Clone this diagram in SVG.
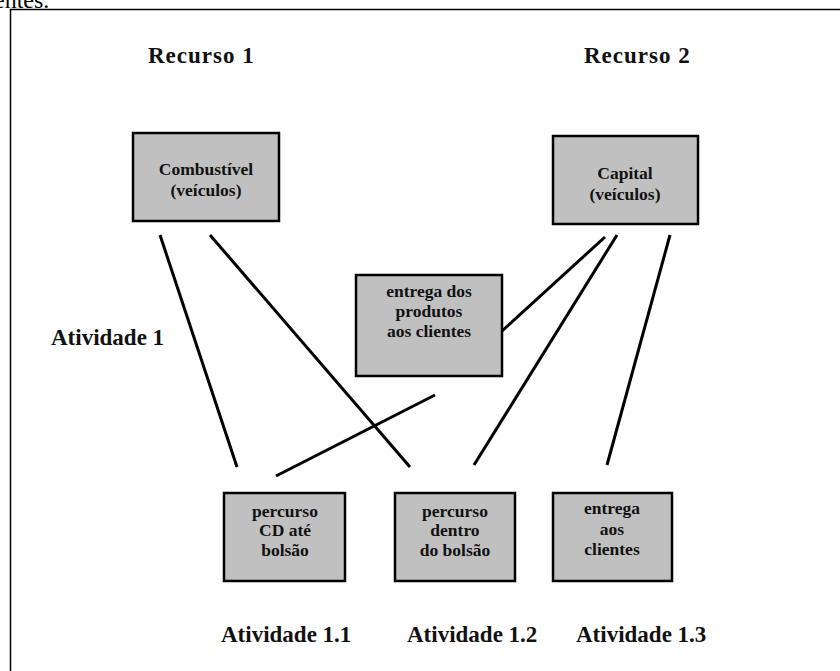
<svg xmlns="http://www.w3.org/2000/svg" width="840" height="671" viewBox="0 0 840 671">
  <style>
    .frame { fill: none; stroke: #000; stroke-width: 1.5; }
    .box { fill: #c0c0c0; stroke: #000; stroke-width: 2.5; }
    .lbl { font-family: "Liberation Serif", "Times New Roman", serif; font-weight: bold; fill: #111; }
    .head { font-size: 23px; letter-spacing: 1px; }
    .act { font-size: 23px; }
    .node { font-size: 17.5px; text-anchor: middle; }
    .link { stroke: #000; stroke-width: 3; stroke-linecap: butt; fill: none; }
    .prose { font-family: "Liberation Serif", "Times New Roman", serif; font-size: 24px; fill: #000; }
  </style>
  <rect width="840" height="671" fill="#fff"/>

  <!-- tail of the preceding paragraph line -->
  <text class="prose" x="-6" y="8">entes.</text>

  <!-- outer frame, open to the right and bottom -->
  <path class="frame" d="M10.5,680 V9.5 H850"/>

  <!-- headings -->
  <text class="lbl head" x="148" y="63">Recurso 1</text>
  <text class="lbl head" x="584" y="63">Recurso 2</text>
  <text class="lbl act" x="51" y="345">Atividade 1</text>
  <text class="lbl act" x="221" y="642">Atividade 1.1</text>
  <text class="lbl act" x="407" y="642">Atividade 1.2</text>
  <text class="lbl act" x="576" y="642">Atividade 1.3</text>

  <!-- connectors -->
  <g id="connectors">
    <line class="link" x1="160" y1="235" x2="237" y2="467"/>
    <line class="link" x1="210" y1="235" x2="410" y2="467"/>
    <line class="link" x1="605" y1="237" x2="502" y2="331"/>
    <line class="link" x1="617" y1="235" x2="474" y2="465"/>
    <line class="link" x1="670" y1="235" x2="607" y2="465"/>
    <line class="link" x1="435" y1="395" x2="276" y2="476"/>
  </g>

  <g id="combustivel">
    <rect class="box" x="133" y="133" width="146" height="88"/>
    <text class="lbl node" x="206" y="175">Combustível</text>
    <text class="lbl node" x="206" y="196">(veículos)</text>
  </g>

  <g id="capital">
    <rect class="box" x="553" y="136" width="145" height="88"/>
    <text class="lbl node" x="625" y="179">Capital</text>
    <text class="lbl node" x="625" y="200">(veículos)</text>
  </g>

  <g id="entrega-produtos">
    <rect class="box" x="356" y="275" width="146" height="101"/>
    <text class="lbl node" x="429" y="297">entrega dos</text>
    <text class="lbl node" x="429" y="317">produtos</text>
    <text class="lbl node" x="429" y="337">aos  clientes</text>
  </g>

  <g id="percurso-cd">
    <rect class="box" x="224" y="493" width="121" height="88"/>
    <text class="lbl node" x="285" y="517">percurso</text>
    <text class="lbl node" x="285" y="536">CD até</text>
    <text class="lbl node" x="285" y="556">bolsão</text>
  </g>

  <g id="percurso-dentro">
    <rect class="box" x="395" y="493" width="120" height="88"/>
    <text class="lbl node" x="455" y="517">percurso</text>
    <text class="lbl node" x="455" y="536">dentro</text>
    <text class="lbl node" x="455" y="556">do bolsão</text>
  </g>

  <g id="entrega-clientes">
    <rect class="box" x="553" y="493" width="119" height="88"/>
    <text class="lbl node" x="612" y="514">entrega</text>
    <text class="lbl node" x="612" y="535">aos</text>
    <text class="lbl node" x="612" y="555">clientes</text>
  </g>
</svg>
